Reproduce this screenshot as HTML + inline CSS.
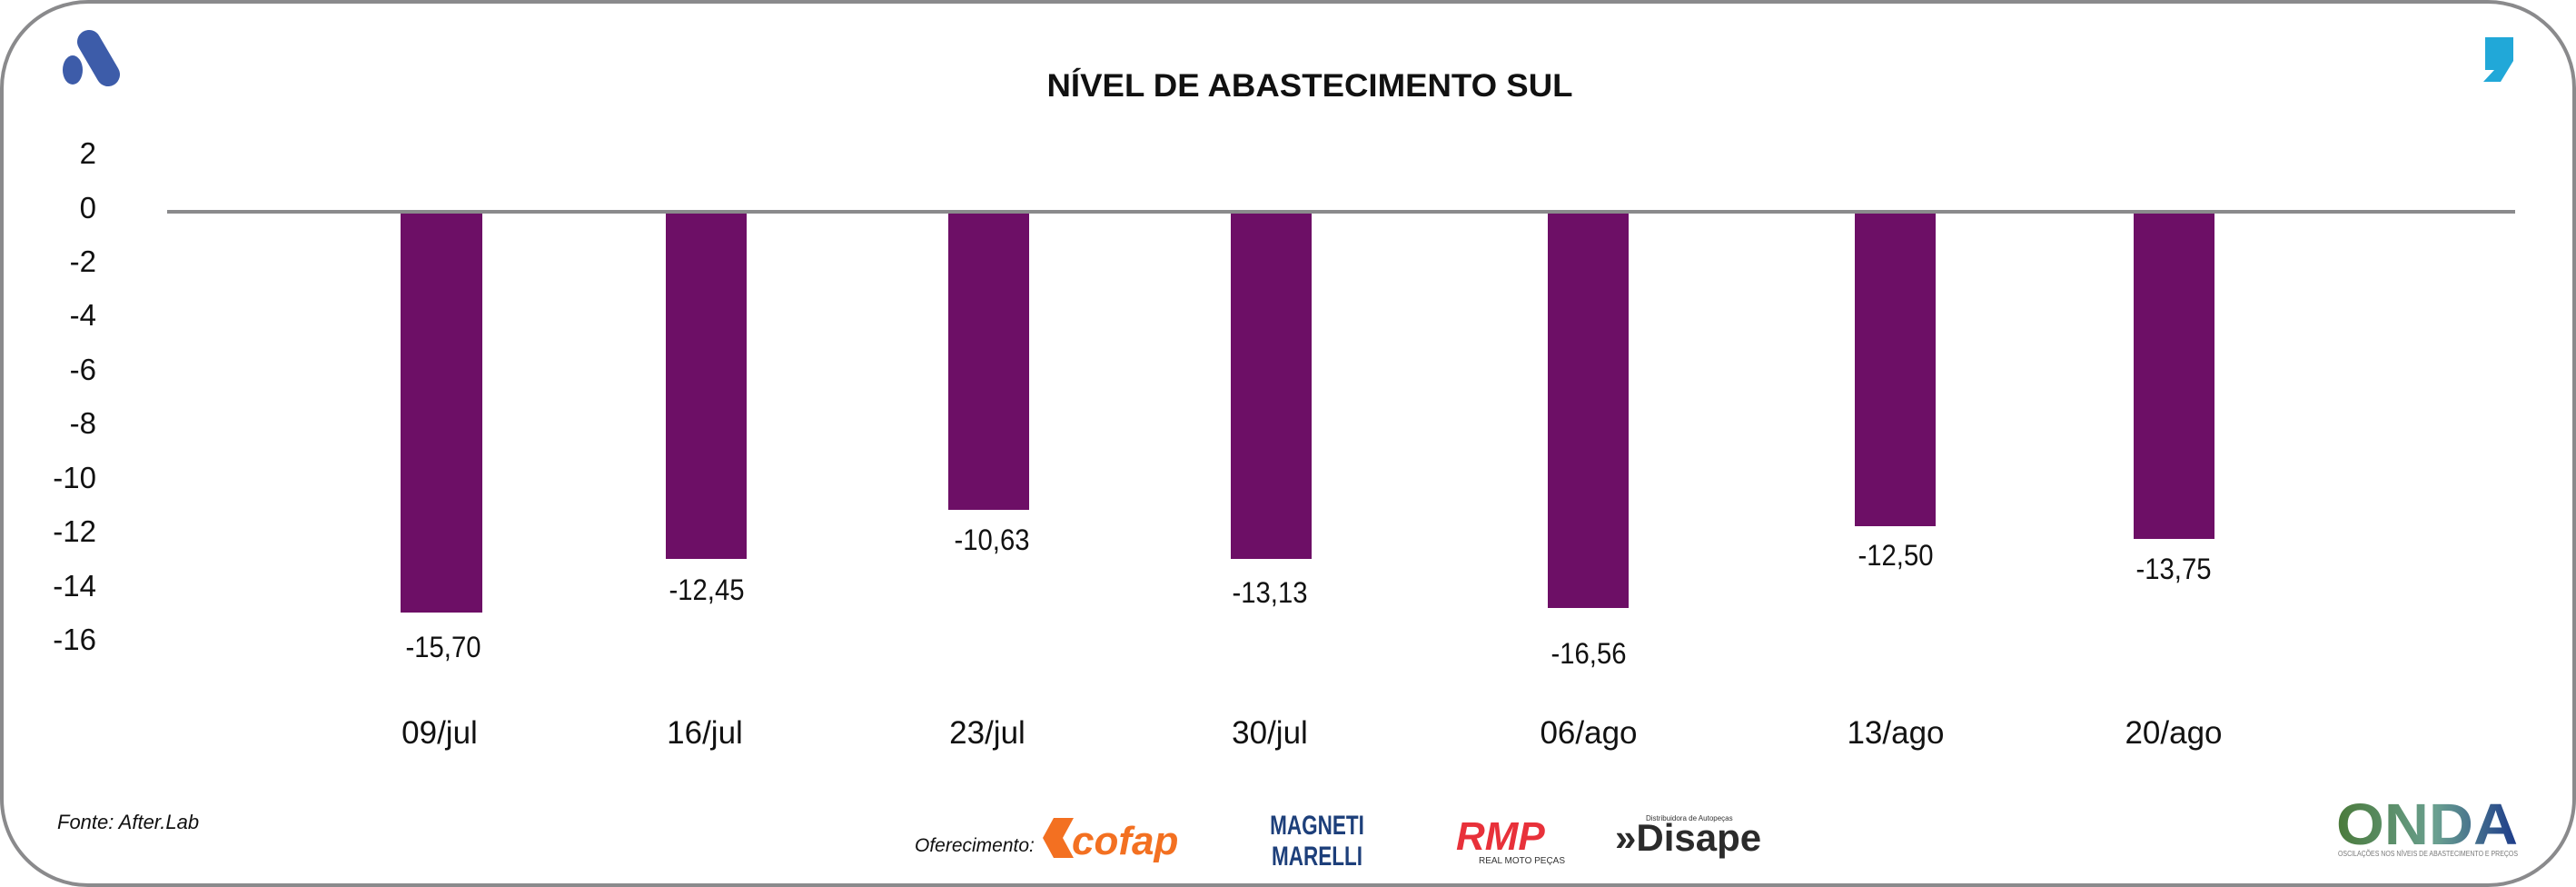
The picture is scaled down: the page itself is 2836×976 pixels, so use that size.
<!DOCTYPE html>
<html><head><meta charset="utf-8"><style>
body{margin:0;background:#fff;}
svg{display:block;}
text{font-family:"Liberation Sans",sans-serif;}
</style></head><body>
<svg width="2836" height="976" viewBox="0 0 2836 976" xmlns="http://www.w3.org/2000/svg">
<rect x="2" y="2" width="2832" height="972" rx="95" ry="95" fill="#fff" stroke="#8a8a8c" stroke-width="4"/>
<!-- A logo -->
<g fill="#3d5ca9">
<line x1="98" y1="46" x2="119" y2="82" stroke="#3d5ca9" stroke-width="26" stroke-linecap="round"/>
<ellipse cx="80" cy="77" rx="11" ry="16"/>
</g>
<!-- right quote logo -->
<path d="M2736 41 h31 v26 l-14 23 h-19 l12 -13 h-10 z" fill="#21a8d8"/>
<text x="1442" y="106" text-anchor="middle" font-size="35" font-weight="bold" fill="#111" textLength="579" lengthAdjust="spacingAndGlyphs">NÍVEL DE ABASTECIMENTO SUL</text>
<!-- y ticks -->
<g font-size="33" fill="#111" text-anchor="end">
<text x="106" y="180">2</text>
<text x="106" y="240">0</text>
<text x="106" y="299">-2</text>
<text x="106" y="358">-4</text>
<text x="106" y="418">-6</text>
<text x="106" y="477">-8</text>
<text x="106" y="537">-10</text>
<text x="106" y="596">-12</text>
<text x="106" y="656">-14</text>
<text x="106" y="715">-16</text>
</g>
<g fill="#6d0f66">
<rect x="441" y="233" width="90" height="441"/>
<rect x="733" y="233" width="89" height="382"/>
<rect x="1044" y="233" width="89" height="328"/>
<rect x="1355" y="233" width="89" height="382"/>
<rect x="1704" y="233" width="89" height="436"/>
<rect x="2042" y="233" width="89" height="346"/>
<rect x="2349" y="233" width="89" height="360"/>
</g>
<rect x="184" y="231" width="2585" height="4" fill="#8a8a8c"/>
<g font-size="32" fill="#111" text-anchor="middle">
<text x="488" y="723" textLength="83" lengthAdjust="spacingAndGlyphs">-15,70</text>
<text x="778" y="660" textLength="83" lengthAdjust="spacingAndGlyphs">-12,45</text>
<text x="1092" y="605" textLength="83" lengthAdjust="spacingAndGlyphs">-10,63</text>
<text x="1398" y="663" textLength="83" lengthAdjust="spacingAndGlyphs">-13,13</text>
<text x="1749" y="730" textLength="83" lengthAdjust="spacingAndGlyphs">-16,56</text>
<text x="2087" y="622" textLength="83" lengthAdjust="spacingAndGlyphs">-12,50</text>
<text x="2393" y="637" textLength="83" lengthAdjust="spacingAndGlyphs">-13,75</text>
</g>
<g font-size="35" fill="#111" text-anchor="middle">
<text x="484" y="818">09/jul</text>
<text x="776" y="818">16/jul</text>
<text x="1087" y="818">23/jul</text>
<text x="1398" y="818">30/jul</text>
<text x="1749" y="818">06/ago</text>
<text x="2087" y="818">13/ago</text>
<text x="2393" y="818">20/ago</text>
</g>
<text x="63" y="912" font-size="22" font-style="italic" fill="#111">Fonte: After.Lab</text>
<text x="1007" y="937" font-size="21" font-style="italic" fill="#111">Oferecimento:</text>
<!-- cofap -->
<path d="M1160 900 h22 l-12 22 l12 22 h-22 l-12 -22 z" fill="#f37021"/>
<text x="1180" y="940" font-size="44" font-weight="bold" font-style="italic" fill="#f37021">cofap</text>
<!-- magneti marelli -->
<text x="1450" y="918" font-size="30" font-weight="bold" fill="#1d3f7a" text-anchor="middle" transform="translate(1450 0) scale(0.75 1) translate(-1450 0)" >MAGNETI</text>
<text x="1450" y="952" font-size="30" font-weight="bold" fill="#1d3f7a" text-anchor="middle" transform="translate(1450 0) scale(0.75 1) translate(-1450 0)">MARELLI</text>
<!-- RMP -->
<text x="1603" y="935" font-size="44" font-weight="bold" font-style="italic" fill="#e8313a">RMP</text>
<text x="1628" y="950" font-size="10" fill="#333">REAL MOTO PEÇAS</text>
<!-- Disape -->
<text x="1778" y="936" font-size="42" font-weight="bold" fill="#2b2b2b">»Disape</text>
<text x="1812" y="903" font-size="8" fill="#333">Distribuidora de Autopeças</text>
<!-- ONDA -->
<defs><linearGradient id="g" x1="0" x2="1"><stop offset="0" stop-color="#4a7a3a"/><stop offset="0.55" stop-color="#6aa090"/><stop offset="1" stop-color="#1c3a8a"/></linearGradient></defs>
<text x="2572" y="929" font-size="64" font-weight="bold" fill="url(#g)" textLength="200" lengthAdjust="spacingAndGlyphs">ONDA</text>
<text x="2574" y="942" font-size="8" fill="#777" textLength="198" lengthAdjust="spacingAndGlyphs">OSCILAÇÕES NOS NÍVEIS DE ABASTECIMENTO E PREÇOS</text>
</svg>
</body></html>
